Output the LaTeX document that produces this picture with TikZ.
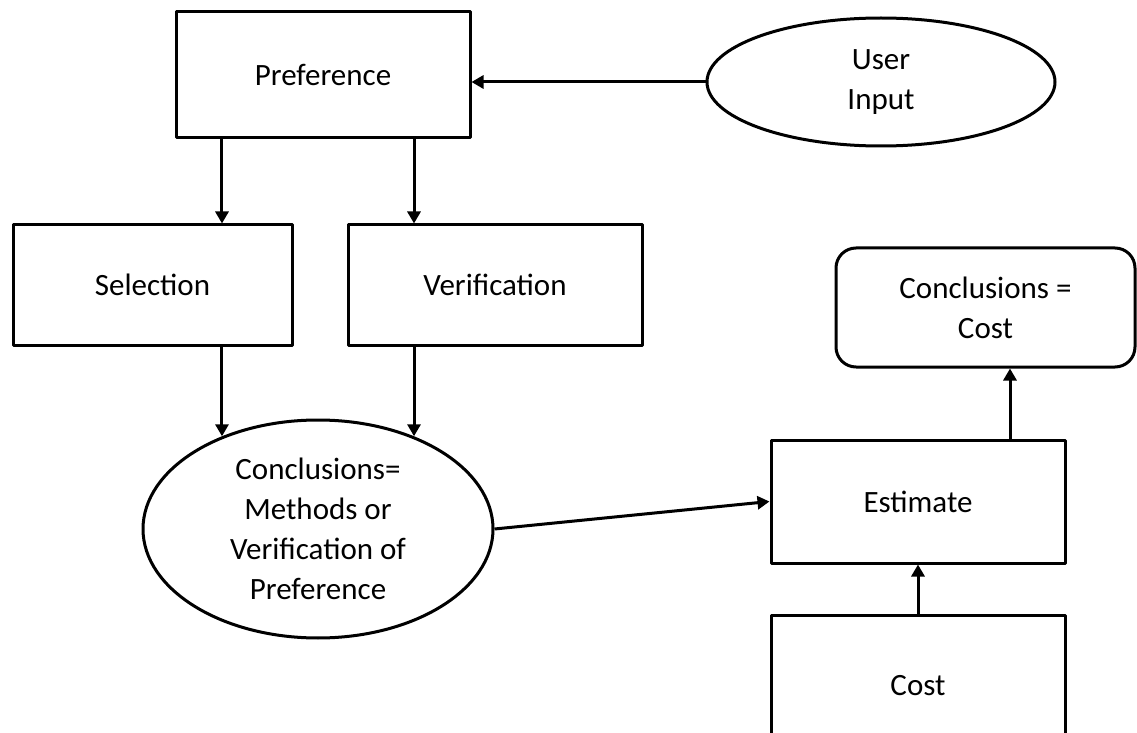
\documentclass[tikz,border=0pt]{standalone}
\usepackage{fontspec}
\setmainfont{Carlito}
\usetikzlibrary{shapes.geometric,arrows.meta}
\begin{document}
\begin{tikzpicture}[x=0.5pt, y=-0.5pt, line width=1.5pt, line join=round,
 font=\fontsize{15.5}{20}\selectfont, >={Triangle[length=6pt,width=6.5pt]},
 box/.style={draw, rectangle, align=center, inner sep=0pt},
 oval/.style={draw, ellipse, align=center, inner sep=0pt}]
 \useasboundingbox (0,0) rectangle (1137,733);
 \node[box, minimum width=147pt, minimum height=63pt] (pref) at (323,75) {Preference};
 \node[oval, minimum width=174pt, minimum height=64pt] (user) at (881,82) {User\\Input};
 \node[box, minimum width=139.5pt, minimum height=60pt] (sel) at (152.5,285) {Selection};
 \node[box, minimum width=147pt, minimum height=60pt] (ver) at (495,285) {Verification};
 \node[oval, minimum width=175pt, minimum height=109pt] (concl) at (318,529)
  {Conclusions=\\Methods or\\Verification of\\Preference};
 \node[box, minimum width=147pt, minimum height=61.5pt] (est) at (918,501.5) {Estimate};
 \node[box, rounded corners=10pt, minimum width=149.5pt, minimum height=59.5pt] (ccost) at (985.5,307.5) {Conclusions =\\Cost};
 \node[box, minimum width=147pt, minimum height=71pt] (cost) at (918,686) {Cost};
 % arrows
 \draw[->] (user.west) -- (user.west -| pref.east);
 \draw[->] (concl.136.6 |- pref.south) -- (concl.136.6 |- sel.north);
 \draw[->] (concl.44.2 |- pref.south) -- (concl.44.2 |- ver.north);
 \draw[->] (concl.136.6 |- sel.south) -- (concl.136.6);
 \draw[->] (concl.44.2 |- ver.south) -- (concl.44.2);
 \draw[->] (concl.east) -- (est.west);
 \draw[->] ([xshift=46pt]est.north) -- ([xshift=46pt]est.north |- ccost.south);
 \draw[->] (cost.north) -- (est.south);
\end{tikzpicture}
\end{document}
